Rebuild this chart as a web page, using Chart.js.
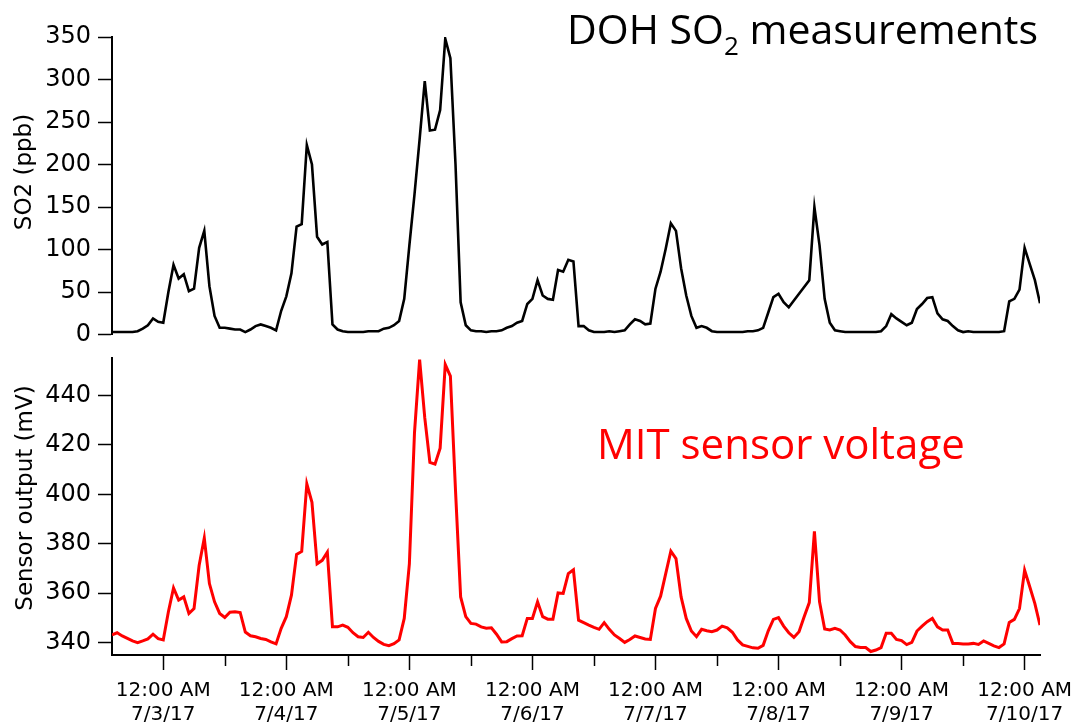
<!DOCTYPE html>
<html>
<head>
<meta charset="utf-8">
<script src="https://cdn.jsdelivr.net/npm/chart.js@4.4.0/dist/chart.umd.min.js"></script>
<style>
  html, body { margin: 0; padding: 0; background: #fff; }
  #wrap { position: relative; width: 1078px; height: 728px; overflow: hidden; }
  canvas { position: absolute; left: 0; }
  #so2Chart { top: 0; }
  #mvChart { top: 337px; }
  .note { position: absolute; font-family: "Open Sans", sans-serif; line-height: 40px; white-space: nowrap; }
  .note sub { font-size: 26px; vertical-align: -11px; line-height: 0; }
  .ytitle { position: absolute; font-family: "DejaVu Sans", sans-serif; font-size: 23px; color: #000; white-space: nowrap;
            transform: translate(-50%, -50%) rotate(-90deg); }
</style>
</head>
<body>
<div id="wrap">
  <canvas id="so2Chart" width="1078" height="356"></canvas>
  <canvas id="mvChart" width="1090" height="391"></canvas>
  <div class="note" style="left:567px; top:8px; font-size:41px; color:#000;">DOH SO<sub>2</sub> measurements</div>
  <div class="note" style="left:597px; top:423px; font-size:42px; color:#ff0000;">MIT sensor voltage</div>
  <div class="ytitle" style="left:23px; top:172px;">SO2 (ppb)</div>
  <div class="ytitle" style="left:24px; top:498px;">Sensor output (mV)</div>
</div>
<script>
// hourly readings, first one at 2:00 PM on 7/2/17 (x = hours after 12:00 AM 7/2/17)
var startHour = 14;

// DOH SO2 (ppb)
var so2 = [
  3, 3, 3, 3, 3, 4, 7, 11, 19, 15,
  14, 50, 82, 66, 71, 51, 54, 102, 122, 57,
  22, 8, 8, 7, 6, 6, 3, 6, 10, 12,
  10, 8, 5, 28, 45, 72, 127, 130, 223, 200,
  115, 106, 109, 12, 6, 4, 3, 3, 3, 3,
  4, 4, 4, 7, 8, 11, 16, 42, 105, 165,
  230, 298, 240, 241, 264, 348, 325, 200, 38, 11,
  5, 4, 4, 3, 4, 4, 5, 8, 10, 14,
  16, 36, 42, 64, 46, 42, 41, 76, 74, 88,
  86, 10, 10, 5, 3, 3, 3, 4, 3, 4,
  5, 12, 18, 16, 12, 13, 54, 74, 101, 131,
  122, 78, 46, 22, 8, 10, 8, 4, 3, 3,
  3, 3, 3, 3, 4, 4, 5, 8, 26, 44,
  48, 38, 32, 40, 48, 56, 64, 150, 105, 42,
  14, 5, 4, 3, 3, 3, 3, 3, 3, 3,
  4, 10, 24, 19, 15, 11, 14, 30, 36, 43,
  44, 25, 18, 16, 10, 5, 3, 4, 3, 3,
  3, 3, 3, 3, 4, 39, 42, 53, 102, 83,
  64, 37
];

// MIT sensor output (mV)
var sensorMv = [
  343.1, 344.0, 342.7, 341.7, 340.7, 340.0, 340.7, 341.5, 343.4, 341.6,
  341.1, 352.5, 362.1, 357.2, 358.5, 351.8, 353.8, 371.3, 382.3, 363.9,
  356.5, 351.8, 350.2, 352.3, 352.5, 352.2, 344.3, 342.8, 342.4, 341.7,
  341.3, 340.3, 339.5, 345.8, 350.5, 359.2, 375.7, 376.9, 404.2, 396.8,
  371.9, 373.3, 376.6, 346.4, 346.4, 347.1, 346.2, 344.0, 342.4, 342.1,
  344.2, 342.1, 340.5, 339.3, 338.8, 339.6, 341.1, 349.8, 371.9, 425.0,
  454.5, 431.0, 412.9, 412.2, 418.7, 452.5, 447.8, 401.5, 358.5, 350.5,
  347.8, 347.5, 346.4, 345.8, 346.0, 343.4, 340.3, 340.4, 341.6, 342.7,
  342.8, 349.8, 349.8, 356.5, 350.5, 349.5, 349.5, 360.1, 359.9, 367.9,
  369.5, 349.1, 348.1, 347.1, 346.2, 345.4, 348.1, 345.4, 343.1, 341.7,
  340.1, 341.3, 342.7, 342.1, 341.5, 341.3, 353.8, 358.8, 367.9, 377.0,
  374.0, 358.5, 349.8, 344.7, 342.4, 345.4, 344.8, 344.4, 345.1, 346.7,
  346.0, 344.2, 341.1, 339.1, 338.5, 337.9, 337.7, 338.9, 344.8, 349.4,
  350.1, 346.7, 344.0, 342.1, 344.4, 350.5, 356.2, 385.0, 356.5, 345.5,
  345.1, 345.8, 345.1, 343.1, 340.4, 338.4, 338.0, 338.0, 336.4, 337.0,
  338.0, 343.8, 343.8, 341.3, 340.8, 339.2, 340.1, 344.7, 346.7, 348.5,
  349.8, 346.4, 345.1, 345.1, 339.7, 339.7, 339.5, 339.5, 339.7, 339.3,
  340.7, 339.7, 338.7, 338.0, 339.5, 348.2, 349.4, 353.8, 369.3, 362.6,
  355.8, 347.1
];

// x ticks: midnights (labelled) and noons (short unlabelled marks)
var dayTicks = [24, 48, 72, 96, 120, 144, 168, 192];
var dayLabels = ['7/3/17', '7/4/17', '7/5/17', '7/6/17', '7/7/17', '7/8/17', '7/9/17', '7/10/17'];
var timeLabel = '12:00 AM';
var noonTicks = [36, 60, 84, 108, 132, 156, 180];

var so2Ticks = [0, 50, 100, 150, 200, 250, 300, 350];
var mvTicks = [340, 360, 380, 400, 420, 440];

var xMin = startHour;
var xMax = startHour + so2.length - 1;

function toPoints(arr) {
    return arr.map(function (v, i) { return { x: startHour + i, y: v }; });
}

var tickFont = { family: 'DejaVu Sans', size: 24 };

function yAxis(min, max, ticks) {
    return {
        min: min,
        max: max,
        afterBuildTicks: function (s) { s.ticks = ticks.map(function (v) { return { value: v }; }); },
        afterFit: function (s) { s.width = 112; },
        border: { color: '#000', width: 2 },
        grid: { drawOnChartArea: false, tickLength: 14, tickColor: '#000', tickWidth: 1.5 },
        ticks: { color: '#000', font: tickFont, padding: 7 }
    };
}

// short marks at noon on the bottom axis
var noonMarks = {
    id: 'noonMarks',
    afterDraw: function (chart) {
        var xs = chart.scales.x, ctx = chart.ctx;
        ctx.save();
        ctx.strokeStyle = '#000';
        ctx.lineWidth = 1.5;
        noonTicks.forEach(function (v) {
            var px = Math.round(xs.getPixelForValue(v)) + 0.5;
            ctx.beginPath();
            ctx.moveTo(px, xs.top);
            ctx.lineTo(px, xs.top + 11);
            ctx.stroke();
        });
        ctx.restore();
    }
};

// DOH SO2 measurements
new Chart(document.getElementById('so2Chart'), {
    type: 'line',
    data: {
        datasets: [{
            data: toPoints(so2),
            borderColor: '#000',
            borderWidth: 2.6,
            pointRadius: 0,
            tension: 0,
            fill: false
        }]
    },
    options: {
        responsive: false,
        animation: false,
        devicePixelRatio: 1,
        layout: { padding: { top: 37, bottom: 0, left: 0, right: 38 } },
        plugins: { legend: { display: false }, tooltip: { enabled: false } },
        scales: {
            x: { type: 'linear', min: xMin, max: xMax, display: false },
            y: yAxis(0, 350, so2Ticks)
        }
    }
});

// MIT sensor voltage
new Chart(document.getElementById('mvChart'), {
    type: 'line',
    data: {
        datasets: [{
            data: toPoints(sensorMv),
            borderColor: '#ff0000',
            borderWidth: 3,
            pointRadius: 0,
            tension: 0,
            fill: false
        }]
    },
    options: {
        responsive: false,
        animation: false,
        devicePixelRatio: 1,
        layout: { padding: { top: 0, bottom: 0, left: 0, right: 50 } },
        plugins: { legend: { display: false }, tooltip: { enabled: false } },
        scales: {
            x: {
                type: 'linear',
                min: xMin,
                max: xMax,
                afterBuildTicks: function (s) { s.ticks = dayTicks.map(function (v) { return { value: v }; }); },
                afterFit: function (s) { s.height = 73; },
                border: { color: '#000', width: 2 },
                grid: { drawOnChartArea: false, tickLength: 15, tickColor: '#000', tickWidth: 1.5 },
                ticks: {
                    color: '#000',
                    font: { family: 'DejaVu Sans', size: 20 },
                    padding: 9,
                    maxRotation: 0,
                    autoSkip: false,
                    callback: function (v, i) { return [timeLabel, dayLabels[i]]; }
                }
            },
            y: yAxis(335, 455, mvTicks)
        }
    },
    plugins: [noonMarks]
});
</script>
</body>
</html>
